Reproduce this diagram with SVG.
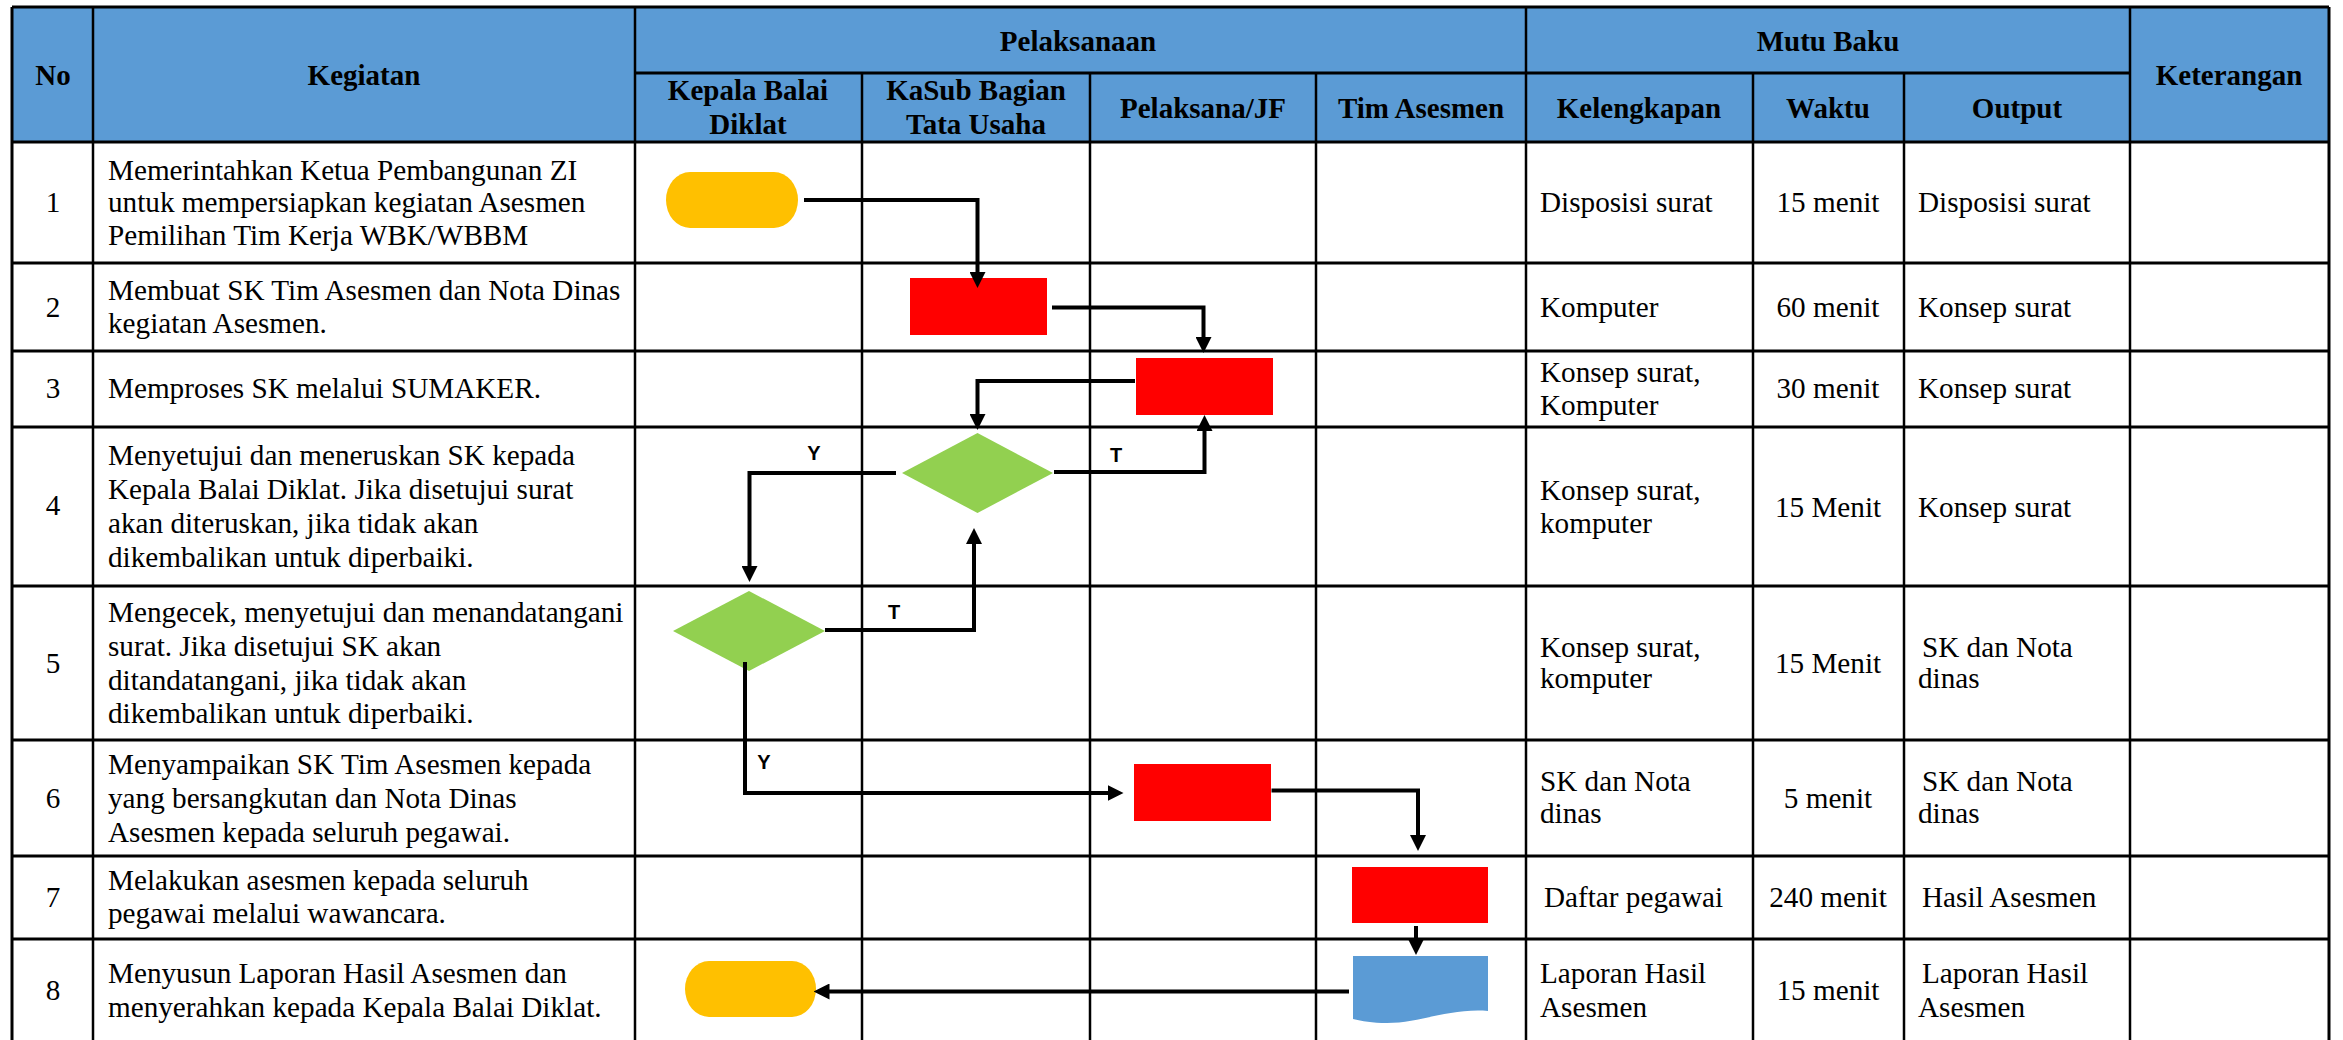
<svg xmlns="http://www.w3.org/2000/svg" width="2343" height="1040" viewBox="0 0 2343 1040">
<style>
.hd{font-family:"Liberation Serif","Times New Roman",serif;font-weight:bold;font-size:29px;fill:#000;text-anchor:middle}
.tx{font-family:"Liberation Serif","Times New Roman",serif;font-size:29.2px;fill:#000}
.c{text-anchor:middle}
.lb{font-family:"Liberation Sans",Arial,sans-serif;font-weight:bold;font-size:20px;fill:#000;text-anchor:middle}
.gh{stroke:#000;stroke-width:3;fill:none}
.gv{stroke:#000;stroke-width:2.5;fill:none}
.term{fill:#FFC000}
.proc{fill:#FF0000}
.dec{fill:#92D050}
.doc{fill:#5B9BD5}
.con{stroke:#000;stroke-width:4;fill:none;marker-end:url(#ah)}
</style>
<defs>
<marker id="ah" markerUnits="userSpaceOnUse" markerWidth="16" markerHeight="16" refX="6" refY="8" orient="auto">
<path d="M0,0 L16,8 L0,16 z" fill="#000"/>
</marker>
</defs>
<rect x="0" y="0" width="2343" height="1040" fill="#fff"/>
<!-- header background -->
<rect x="12" y="7" width="2317" height="135" fill="#5B9BD5"/>
<g id="grid">
<line class="gh" x1="12" y1="7" x2="2329" y2="7"/>
<line class="gh" x1="635" y1="73" x2="2130" y2="73"/>
<line class="gh" x1="12" y1="142" x2="2329" y2="142"/>
<line class="gh" x1="12" y1="263" x2="2329" y2="263"/>
<line class="gh" x1="12" y1="351" x2="2329" y2="351"/>
<line class="gh" x1="12" y1="427" x2="2329" y2="427"/>
<line class="gh" x1="12" y1="586" x2="2329" y2="586"/>
<line class="gh" x1="12" y1="740" x2="2329" y2="740"/>
<line class="gh" x1="12" y1="856" x2="2329" y2="856"/>
<line class="gh" x1="12" y1="939" x2="2329" y2="939"/>
<line class="gh" x1="12" y1="7" x2="12" y2="1040"/>
<line class="gh" x1="2329" y1="7" x2="2329" y2="1040"/>
<line class="gv" x1="93" y1="7" x2="93" y2="1040"/>
<line class="gv" x1="635" y1="7" x2="635" y2="1040"/>
<line class="gv" x1="862" y1="73" x2="862" y2="1040"/>
<line class="gv" x1="1090" y1="73" x2="1090" y2="1040"/>
<line class="gv" x1="1316" y1="73" x2="1316" y2="1040"/>
<line class="gv" x1="1526" y1="7" x2="1526" y2="1040"/>
<line class="gv" x1="1753" y1="73" x2="1753" y2="1040"/>
<line class="gv" x1="1904" y1="73" x2="1904" y2="1040"/>
<line class="gv" x1="2130" y1="7" x2="2130" y2="1040"/>
</g>
<g id="header">
<text class="hd" x="53" y="85">No</text>
<text class="hd" x="364" y="85">Kegiatan</text>
<text class="hd" x="1078" y="51">Pelaksanaan</text>
<text class="hd" x="748" y="100">Kepala Balai</text>
<text class="hd" x="748" y="134">Diklat</text>
<text class="hd" x="976" y="100">KaSub Bagian</text>
<text class="hd" x="976" y="134">Tata Usaha</text>
<text class="hd" x="1203" y="118">Pelaksana/JF</text>
<text class="hd" x="1421" y="118">Tim Asesmen</text>
<text class="hd" x="1828" y="51">Mutu Baku</text>
<text class="hd" x="1639" y="118">Kelengkapan</text>
<text class="hd" x="1828" y="118">Waktu</text>
<text class="hd" x="2017" y="118">Output</text>
<text class="hd" x="2229" y="85">Keterangan</text>
</g>
<g id="rows">
<text class="tx c" x="53" y="212">1</text>
<text class="tx" x="108" y="180">Memerintahkan Ketua Pembangunan ZI</text>
<text class="tx" x="108" y="212">untuk mempersiapkan kegiatan Asesmen</text>
<text class="tx" x="108" y="245">Pemilihan Tim Kerja WBK/WBBM</text>
<text class="tx" x="1540" y="212">Disposisi surat</text>
<text class="tx c" x="1828" y="212">15 menit</text>
<text class="tx" x="1918" y="212">Disposisi surat</text>

<text class="tx c" x="53" y="317">2</text>
<text class="tx" x="108" y="300">Membuat SK Tim Asesmen dan Nota Dinas</text>
<text class="tx" x="108" y="333">kegiatan Asesmen.</text>
<text class="tx" x="1540" y="317">Komputer</text>
<text class="tx c" x="1828" y="317">60 menit</text>
<text class="tx" x="1918" y="317">Konsep surat</text>

<text class="tx c" x="53" y="398">3</text>
<text class="tx" x="108" y="398">Memproses SK melalui SUMAKER.</text>
<text class="tx" x="1540" y="382">Konsep surat,</text>
<text class="tx" x="1540" y="415">Komputer</text>
<text class="tx c" x="1828" y="398">30 menit</text>
<text class="tx" x="1918" y="398">Konsep surat</text>

<text class="tx c" x="53" y="515">4</text>
<text class="tx" x="108" y="465">Menyetujui dan meneruskan SK kepada</text>
<text class="tx" x="108" y="499">Kepala Balai Diklat. Jika disetujui surat</text>
<text class="tx" x="108" y="533">akan diteruskan, jika tidak akan</text>
<text class="tx" x="108" y="567">dikembalikan untuk diperbaiki.</text>
<text class="tx" x="1540" y="500">Konsep surat,</text>
<text class="tx" x="1540" y="533">komputer</text>
<text class="tx c" x="1828" y="517">15 Menit</text>
<text class="tx" x="1918" y="517">Konsep surat</text>

<text class="tx c" x="53" y="673">5</text>
<text class="tx" x="108" y="622">Mengecek, menyetujui dan menandatangani</text>
<text class="tx" x="108" y="656">surat. Jika disetujui SK akan</text>
<text class="tx" x="108" y="690">ditandatangani, jika tidak akan</text>
<text class="tx" x="108" y="723">dikembalikan untuk diperbaiki.</text>
<text class="tx" x="1540" y="657">Konsep surat,</text>
<text class="tx" x="1540" y="688">komputer</text>
<text class="tx c" x="1828" y="673">15 Menit</text>
<text class="tx" x="1922" y="657">SK dan Nota</text>
<text class="tx" x="1918" y="688">dinas</text>

<text class="tx c" x="53" y="808">6</text>
<text class="tx" x="108" y="774">Menyampaikan SK Tim Asesmen kepada</text>
<text class="tx" x="108" y="808">yang bersangkutan dan Nota Dinas</text>
<text class="tx" x="108" y="842">Asesmen kepada seluruh pegawai.</text>
<text class="tx" x="1540" y="791">SK dan Nota</text>
<text class="tx" x="1540" y="823">dinas</text>
<text class="tx c" x="1828" y="808">5 menit</text>
<text class="tx" x="1922" y="791">SK dan Nota</text>
<text class="tx" x="1918" y="823">dinas</text>

<text class="tx c" x="53" y="907">7</text>
<text class="tx" x="108" y="890">Melakukan asesmen kepada seluruh</text>
<text class="tx" x="108" y="923">pegawai melalui wawancara.</text>
<text class="tx" x="1544" y="907">Daftar pegawai</text>
<text class="tx c" x="1828" y="907">240 menit</text>
<text class="tx" x="1922" y="907">Hasil Asesmen</text>

<text class="tx c" x="53" y="1000">8</text>
<text class="tx" x="108" y="983">Menyusun Laporan Hasil Asesmen dan</text>
<text class="tx" x="108" y="1017">menyerahkan kepada Kepala Balai Diklat.</text>
<text class="tx" x="1540" y="983">Laporan Hasil</text>
<text class="tx" x="1540" y="1017">Asesmen</text>
<text class="tx c" x="1828" y="1000">15 menit</text>
<text class="tx" x="1922" y="983">Laporan Hasil</text>
<text class="tx" x="1918" y="1017">Asesmen</text>
</g>
<g id="n1"><rect class="term" x="666" y="172" width="132" height="56" rx="24" ry="28"/></g>
<g id="n2"><rect class="proc" x="910" y="278" width="137" height="57"/></g>
<g id="n3"><rect class="proc" x="1136" y="358" width="137" height="57"/></g>
<g id="n4"><polygon class="dec" points="977.5,433 1053,473 977.5,513 902,473"/></g>
<g id="n5"><polygon class="dec" points="749,591 825,631 749,671 673,631"/></g>
<g id="n6"><rect class="proc" x="1134" y="764" width="137" height="57"/></g>
<g id="n7"><rect class="proc" x="1352" y="867" width="136" height="56"/></g>
<g id="n8"><path class="doc" d="M1353,956 H1488 V1011 C1450,1008 1420,1023 1387,1023 C1372,1023 1362,1021 1353,1019 Z"/></g>
<g id="n9"><rect class="term" x="685" y="961" width="131" height="56" rx="24" ry="28"/></g>
<g id="connectors">
<path class="con" d="M804,200 H977.5 V278"/>
<path class="con" d="M1052,307.5 H1203.5 V343"/>
<path class="con" d="M1135,381 H977.5 V420"/>
<path class="con" d="M1054,472 H1204.5 V425"/>
<path class="con" d="M896,473 H749.5 V572"/>
<path class="con" d="M825,630 H974 V538"/>
<path class="con" d="M745,662 V793 H1113.5"/>
<path class="con" d="M1271.5,790.5 H1418 V841"/>
<path class="con" d="M1416,926 V945"/>
<path class="con" d="M1349,991.5 H823.5"/>
<text class="lb" x="814" y="460">Y</text>
<text class="lb" x="1116" y="462">T</text>
<text class="lb" x="894" y="619">T</text>
<text class="lb" x="764" y="769">Y</text>
</g>
</svg>
